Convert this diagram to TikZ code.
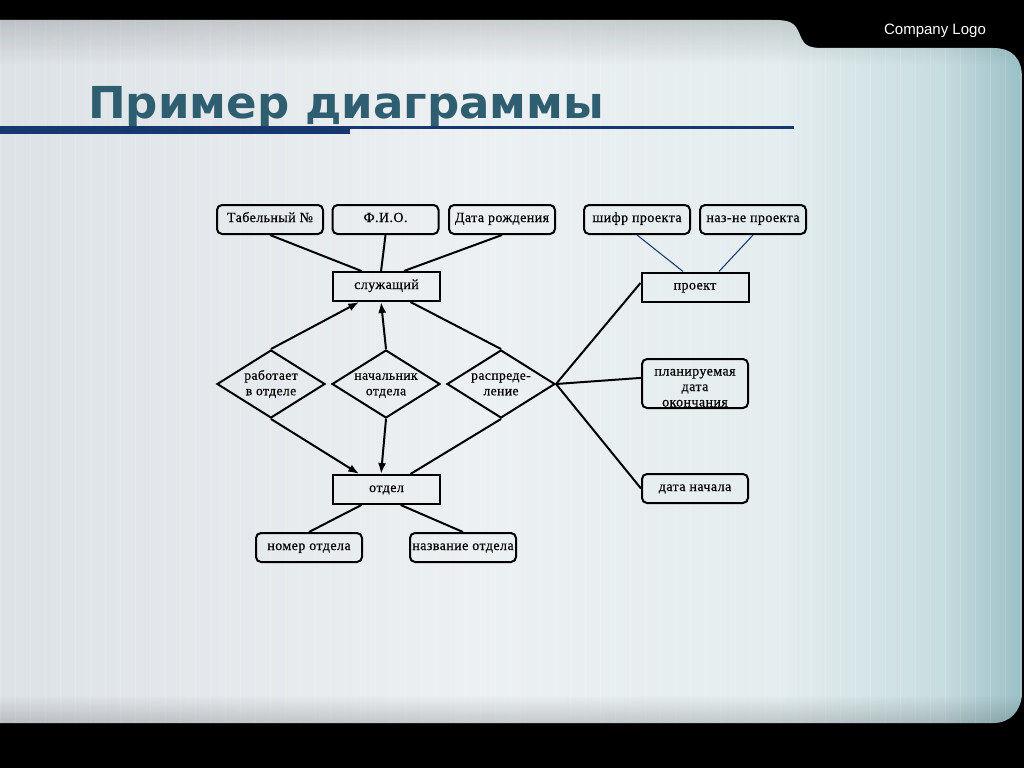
\documentclass[tikz,border=0pt]{standalone}
\usepackage{fontspec}
\setmainfont{Liberation Serif}
\newfontfamily\lblf[LetterSpace=3,FakeBold=0.5]{Liberation Serif}
\newfontfamily\sansf{Liberation Sans}
\newfontfamily\titlef{DejaVu Sans}
\usetikzlibrary{shapes.geometric,arrows.meta,calc,fadings}
\definecolor{titlec}{RGB}{46,94,112}
\definecolor{navy}{RGB}{22,56,108}
\definecolor{pc1}{RGB}{221,226,231}
\definecolor{pc2}{RGB}{236,240,242}
\definecolor{pc3}{RGB}{228,237,239}
\definecolor{pc4}{RGB}{200,221,224}
\definecolor{pc5}{RGB}{155,192,198}
\definecolor{linkblue}{RGB}{30,62,120}
\pgfdeclarehorizontalshading{panelshade}{100bp}{color(0bp)=(pc1); color(25bp)=(pc1); color(48bp)=(pc2); color(63bp)=(pc3); color(71bp)=(pc4); color(75bp)=(pc5); color(100bp)=(pc5)}
\newcommand{\dtext}[2][0pt]{\raisebox{#1}[0pt][0pt]{\makebox[0pt]{\begin{tabular}{@{}c@{}}#2\end{tabular}}}}
\tikzset{
  lbl/.style={font=\lblf\fontsize{14}{15}\selectfont, text height=10pt, text depth=5pt},
  rbox/.style={draw, line width=2pt, rounded corners=5pt, minimum width=106pt, minimum height=29pt, inner sep=1pt},
  attr/.style={rbox, lbl},
  ent/.style={lbl, draw, line width=2pt, minimum width=107pt, minimum height=29pt, inner sep=1pt},
  rel/.style={diamond, draw, line width=2pt, minimum width=108pt, minimum height=68pt, inner sep=0pt, font=\lblf\fontsize{13.6}{15.5}\selectfont},
  con/.style={line width=2pt},
  arr/.style={line width=2pt, -{Latex[length=11pt,width=8pt]}},
  thin/.style={linkblue, line width=1.1pt}
}
\begin{document}
\begin{tikzpicture}[x=1pt,y=-1pt]
\fill[black] (0,0) rectangle (1024,768);
\useasboundingbox (0,0) rectangle (1024,768);
% panel
\path[shading=panelshade] (0,20) -- (772,20) .. controls (790,20) and (795,22) .. (800,35) .. controls (804,45) and (808,48) .. (822,48) -- (993,48) .. controls (1012,48) and (1022,58) .. (1022,78) -- (1022,695) .. controls (1020,712) and (1010,723) .. (993,723) -- (0,723) -- cycle;
\begin{scope}
\clip (0,20) -- (772,20) .. controls (790,20) and (795,22) .. (800,35) .. controls (804,45) and (808,48) .. (822,48) -- (993,48) .. controls (1012,48) and (1022,58) .. (1022,78) -- (1022,695) .. controls (1020,712) and (1010,723) .. (993,723) -- (0,723) -- cycle;
\draw[white, opacity=0.15, line width=0.8pt, step=15] (0,15) grid (1035,735);
\fill[black, opacity=0.14, path fading=south] (0,20) rectangle (1024,65);
\fill[black, opacity=0.16, path fading=north] (0,695) rectangle (1024,723);
\end{scope}
% header
\node[anchor=center, text=white, font=\sansf\fontsize{15}{17}\selectfont] (logo) at (935,31) {Company Logo};
\node[anchor=base west, inner sep=0pt, text=titlec] (title) at (88,118) {\resizebox{516pt}{\height}{\titlef\bfseries\fontsize{44}{50}\selectfont Пример диаграммы}};
\fill[navy] (0,126) rectangle (350,134);
\fill[navy] (350,126) rectangle (794,129);
% attribute nodes
\node[attr] (tab) at (270,219.5) {Табельный №};
\node[attr] (fio) at (385.5,219.5) {Ф.И.О.};
\node[attr] (dr) at (502,219.5) {Дата рождения};
\node[attr] (shifr) at (637,219.5) {шифр проекта};
\node[attr] (naz) at (753,219.5) {наз-не проекта};
\node[ent] (sl) at (386.5,286.5) {служащий};
\node[ent] (pr) at (695,287) {проект};
\node[rel] (rab) at (271,384) {\dtext[-4pt]{работает\\в отделе}};
\node[rel] (nach) at (386,384) {\dtext[-4pt]{начальник\\отдела}};
\node[rel] (rasp) at (501,384) {\dtext[-4pt]{распреде-\\ление}};
\node[rbox, minimum height=49pt, font=\lblf\fontsize{14}{15.5}\selectfont] (plan) at (695,383.5) {\dtext[-8pt]{планируемая\\дата\\окончания}};
\node[attr] (dn) at (695,488.5) {дата начала};
\node[ent] (otd) at (386.5,489.5) {отдел};
\node[attr] (nom) at (309,547.5) {номер отдела};
\node[attr] (nazv) at (463,547.5) {название отдела};
% connectors
\draw[con] (tab.south) -- ($(sl.north west)!0.27!(sl.north east)$);
\draw[con] (fio.south) -- ($(sl.north west)!0.45!(sl.north east)$);
\draw[con] (dr.south) -- ($(sl.north west)!0.66!(sl.north east)$);
\draw[thin] (shifr.south) -- ($(pr.north west)!0.39!(pr.north east)$);
\draw[thin] (naz.south) -- ($(pr.north west)!0.72!(pr.north east)$);
\draw[arr] (rab.north) -- ($(sl.south west)!0.25!(sl.south east)$);
\draw[arr] (nach.north) -- ($(sl.south west)!0.45!(sl.south east)$);
\draw[con] (rasp.north) -- ($(sl.south west)!0.72!(sl.south east)$);
\draw[arr] (rab.south) -- ($(otd.north west)!0.25!(otd.north east)$);
\draw[arr] (nach.south) -- ($(otd.north west)!0.45!(otd.north east)$);
\draw[con] (rasp.south) -- ($(otd.north west)!0.72!(otd.north east)$);
\draw[con] (rasp.east) -- ($(pr.north west)!0.37!(pr.south west)$);
\draw[con] (rasp.east) -- ($(plan.north west)!0.39!(plan.south west)$);
\draw[con] (rasp.east) -- (dn.west);
\draw[con] ($(otd.south west)!0.27!(otd.south east)$) -- (nom.north);
\draw[con] ($(otd.south west)!0.63!(otd.south east)$) -- (nazv.north);
\end{tikzpicture}
\end{document}
